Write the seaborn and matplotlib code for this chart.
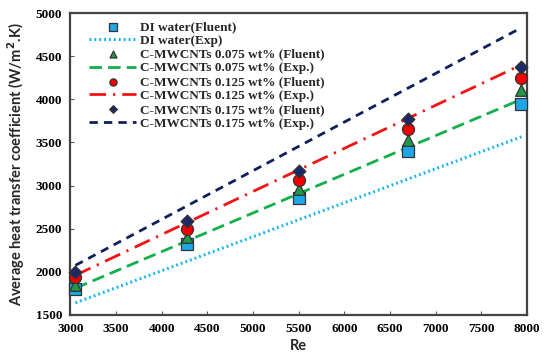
import pandas as pd
import seaborn as sns
import matplotlib.pyplot as plt

# Re values of the simulated points
re_fluent = [3055, 4280, 5500, 6700, 7940]
di_fluent = [1795, 2320, 2860, 3405, 3950]
c075_fluent = [1850, 2400, 2955, 3530, 4105]
c125_fluent = [1935, 2500, 3065, 3655, 4250]
c175_fluent = [2000, 2585, 3170, 3775, 4375]

# experimental correlation lines (end points)
re_exp = [3055, 7940]
di_exp = [1640, 3565]
c075_exp = [1810, 4000]
c125_exp = [1960, 4400]
c175_exp = [2075, 4830]

labels_fluent = ["DI water(Fluent)", "C-MWCNTs 0.075 wt% (Fluent)",
                 "C-MWCNTs 0.125 wt% (Fluent)", "C-MWCNTs 0.175 wt% (Fluent)"]
labels_exp = ["DI water(Exp)", "C-MWCNTs 0.075 wt% (Exp.)",
              "C-MWCNTs 0.125 wt% (Exp.)", "C-MWCNTs 0.175 wt% (Exp.)"]

sns.set_theme(style="white")
plt.rcParams['font.family'] = ['Liberation Serif', 'DejaVu Serif']

fluent = pd.concat([
    pd.DataFrame({'Re': re_fluent, 'h': v, 'series': lab})
    for v, lab in zip([di_fluent, c075_fluent, c125_fluent, c175_fluent], labels_fluent)
])
exp = pd.concat([
    pd.DataFrame({'Re': re_exp, 'h': v, 'series': lab})
    for v, lab in zip([di_exp, c075_exp, c125_exp, c175_exp], labels_exp)
])

fill_cols = ['#1EA7E8', '#1E9A48', '#F20000', '#1B2A66']
line_cols = ['#13B4F0', '#12B04A', '#F21414', '#0E1F5C']
markers = ['s', '^', 'o', 'D']
msizes = [75, 70, 75, 42]
dashes = [(0.6, 1.0), (4.5, 2.2), (6, 2.5, 0.8, 2.5), (3, 2.2)]

fig = plt.figure(figsize=(5.5, 3.62), dpi=100)
ax = fig.add_axes([0.128, 0.130, 0.830, 0.834])

# draw experimental lines
line_handles = []
for i, lab in enumerate(labels_exp):
    d = exp[exp['series'] == lab]
    sns.lineplot(data=d, x='Re', y='h', ax=ax, color=line_cols[i], lw=2,
                 legend=False, zorder=2)
    ln = ax.lines[-1]
    ln.set_linestyle((0, dashes[i]))
    if i == 0:
        ln.set_linewidth(2.2)
    line_handles.append(ln)

# Fluent points
pt_handles = []
for i, lab in enumerate(labels_fluent):
    d = fluent[fluent['series'] == lab]
    sns.scatterplot(data=d, x='Re', y='h', ax=ax, marker=markers[i], s=msizes[i],
                    color=fill_cols[i], edgecolor='#333333', linewidth=0.9,
                    legend=False, zorder=3, clip_on=False)
    pt_handles.append(ax.collections[-1])

handles, labs = [], []
for i in range(4):
    handles += [pt_handles[i], line_handles[i]]
    labs += [labels_fluent[i], labels_exp[i]]
ax.legend(handles, labs, loc='upper left', bbox_to_anchor=(0.02, 1.005), frameon=False,
          labelspacing=0.12, handlelength=3.6, handletextpad=0.3, markerscale=0.6,
          borderaxespad=0.3, prop={'family': 'Liberation Serif', 'weight': 'bold', 'size': 9.5})

ax.set_xlim(3000, 8000)
ax.set_ylim(1500, 5000)
ax.set_xticks(range(3000, 8001, 500))
ax.set_yticks(range(1500, 5001, 500))
ax.tick_params(direction='in', length=3, width=0.8, colors='#555555', labelcolor='black',
               labelsize=9.5, bottom=True, left=True, pad=6)
for t in ax.get_xticklabels() + ax.get_yticklabels():
    t.set_fontweight('bold')
for s in ax.spines.values():
    s.set_color('#444444')
    s.set_linewidth(1.6)

ax.set_xlabel('Re', fontfamily='Lato', fontweight='bold', fontsize=10.5, labelpad=3)
ax.set_ylabel('Average heat transfer coefficient (W/m$^{\\mathbf{2}}$.K)', fontfamily='Lato',
              fontweight='bold', fontsize=10.5, labelpad=6)

fig.savefig('out.png', dpi=100)
